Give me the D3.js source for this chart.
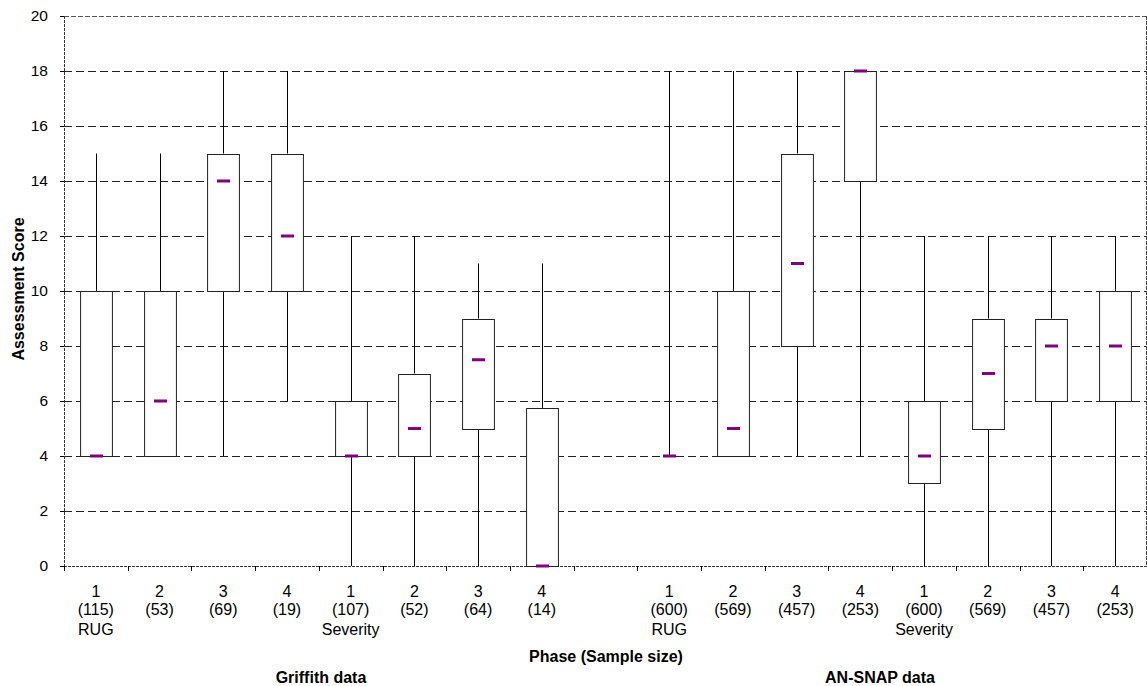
<!DOCTYPE html>
<html>
<head>
<meta charset="utf-8">
<script src="https://cdn.jsdelivr.net/npm/d3@7"></script>
<style>
  body { margin: 0; background: #fff; }
  text { font-family: "Liberation Sans", Arial, sans-serif; fill: #000; }
</style>
</head>
<body>
<div id="chart"></div>
<script>
// slots along the x axis (slot "gap" is the empty space between the two data sets)
const slots = ["g1", "g2", "g3", "g4", "g5", "g6", "g7", "g8", "gap",
               "a1", "a2", "a3", "a4", "a5", "a6", "a7", "a8"];
const phases = ["1", "2", "3", "4", "1", "2", "3", "4", "",
                "1", "2", "3", "4", "1", "2", "3", "4"];
const sampleSizes = ["(115)", "(53)", "(69)", "(19)", "(107)", "(52)", "(64)", "(14)", "",
                     "(600)", "(569)", "(457)", "(253)", "(600)", "(569)", "(457)", "(253)"];
const groupTags = ["RUG", "", "", "", "Severity", "", "", "", "",
                   "RUG", "", "", "", "Severity", "", "", ""];

const mins    = [4, 4, 4, 6, 0, 0, 0, 0, null, 4, 4, 4, 4, 0, 0, 0, 0];
const q1s     = [4, 4, 10, 10, 4, 4, 5, 0, null, 4, 4, 8, 14, 3, 5, 6, 6];
const medians = [4, 6, 14, 12, 4, 5, 7.5, 0, null, 4, 5, 11, 18, 4, 7, 8, 8];
const q3s     = [10, 10, 15, 15, 6, 7, 9, 5.75, null, 4, 10, 15, 18, 6, 9, 9, 10];
const maxs    = [15, 15, 18, 18, 12, 12, 11, 11, null, 18, 18, 18, 18, 12, 12, 12, 12];

const yTicks = [0, 2, 4, 6, 8, 10, 12, 14, 16, 18, 20];

const width = 1147, height = 686;
const margin = { left: 64, right: 0, top: 16, bottom: 120 };

const svg = d3.select("#chart").append("svg")
  .attr("width", width)
  .attr("height", height);

const x = d3.scaleBand()
  .domain(slots)
  .range([margin.left, width - margin.right])
  .padding(0);

const y = d3.scaleLinear()
  .domain([0, 20])
  .range([height - margin.bottom, margin.top]);

const plotLeft = margin.left, plotRight = width - 1;
const plotTop = y(20), plotBottom = y(0);

// horizontal grid lines
svg.append("g")
  .selectAll("line")
  .data(yTicks.filter(d => d > 0))
  .enter()
  .append("line")
  .attr("x1", plotLeft)
  .attr("x2", plotRight)
  .attr("y1", d => Math.round(y(d)) + 0.5)
  .attr("y2", d => Math.round(y(d)) + 0.5)
  .attr("stroke", d => d === 20 ? "#555" : "#222")
  .attr("stroke-dasharray", d => d === 20 ? "5,2" : "8,4");

// right border
svg.append("line")
  .attr("x1", plotRight + 0.5).attr("x2", plotRight + 0.5)
  .attr("y1", plotTop).attr("y2", plotBottom)
  .attr("stroke", "#444")
  .attr("stroke-dasharray", "4,1");

// y axis
const yAxis = svg.append("g")
  .attr("transform", `translate(${plotLeft},0)`)
  .call(d3.axisLeft(y).tickValues(yTicks).tickSize(4).tickPadding(12));
yAxis.select(".domain").attr("stroke", "#333").attr("stroke-dasharray", "3,1");
yAxis.selectAll("text").style("font-size", "15.5px");

// x axis (ticks at slot boundaries)
const boundaries = slots.map(s => x(s)).concat([x.range()[1]]);
svg.append("line")
  .attr("x1", plotLeft).attr("x2", plotRight + 1)
  .attr("y1", Math.round(plotBottom) + 0.5).attr("y2", Math.round(plotBottom) + 0.5)
  .attr("stroke", "#333")
  .attr("stroke-dasharray", "3,1");
svg.append("g")
  .selectAll("line")
  .data(boundaries)
  .enter()
  .append("line")
  .attr("x1", d => Math.round(d) + 0.5)
  .attr("x2", d => Math.round(d) + 0.5)
  .attr("y1", plotBottom)
  .attr("y2", plotBottom + 5)
  .attr("stroke", "#000");

// box plots
const boxData = slots.map((s, i) => ({
  slot: s, min: mins[i], q1: q1s[i], med: medians[i], q3: q3s[i], max: maxs[i]
})).filter(d => d.min !== null);

const boxW = x.bandwidth() * 0.5;
const cx = d => Math.round(x(d.slot) + x.bandwidth() / 2) + 0.5;

const boxes = svg.append("g")
  .selectAll("g")
  .data(boxData)
  .enter()
  .append("g");

// lower whisker
boxes.append("line")
  .attr("x1", cx).attr("x2", cx)
  .attr("y1", d => y(d.min)).attr("y2", d => y(d.q1))
  .attr("stroke", "#000");
// upper whisker
boxes.append("line")
  .attr("x1", cx).attr("x2", cx)
  .attr("y1", d => y(d.q3)).attr("y2", d => y(d.max))
  .attr("stroke", "#000");
// box
boxes.append("rect")
  .attr("x", d => cx(d) - boxW / 2)
  .attr("y", d => Math.round(y(d.q3)) + 0.5)
  .attr("width", boxW)
  .attr("height", d => Math.max(0, Math.round(y(d.q1)) - Math.round(y(d.q3))))
  .attr("fill", "#fff")
  .attr("stroke", "#222");
// median marker
boxes.append("rect")
  .attr("x", d => cx(d) - 6.5)
  .attr("y", d => y(d.med) - 1.5)
  .attr("width", 13)
  .attr("height", 3)
  .attr("fill", "#800080");

// category labels
const labels = svg.append("g")
  .selectAll("text")
  .data(slots.map((s, i) => ({ slot: s, i })))
  .enter()
  .append("text")
  .attr("x", d => x(d.slot) + x.bandwidth() / 2)
  .attr("text-anchor", "middle")
  .style("font-size", "16px");
labels.append("tspan").attr("x", d => x(d.slot) + x.bandwidth() / 2).attr("y", 597).text(d => phases[d.i]);
labels.append("tspan").attr("x", d => x(d.slot) + x.bandwidth() / 2).attr("y", 615).text(d => sampleSizes[d.i]);
labels.append("tspan").attr("x", d => x(d.slot) + x.bandwidth() / 2).attr("y", 635).text(d => groupTags[d.i]);

// axis titles
svg.append("text")
  .attr("x", 606).attr("y", 662)
  .attr("text-anchor", "middle")
  .style("font-size", "16px").style("font-weight", "bold")
  .text("Phase (Sample size)");
svg.append("text")
  .attr("x", 321).attr("y", 683)
  .attr("text-anchor", "middle")
  .style("font-size", "16px").style("font-weight", "bold")
  .text("Griffith data");
svg.append("text")
  .attr("x", 880).attr("y", 683)
  .attr("text-anchor", "middle")
  .style("font-size", "16px").style("font-weight", "bold")
  .text("AN-SNAP data");
svg.append("text")
  .attr("transform", `translate(24, ${(plotTop + plotBottom) / 2 - 2}) rotate(-90)`)
  .attr("text-anchor", "middle")
  .style("font-size", "16px").style("font-weight", "bold")
  .text("Assessment Score");
</script>
</body>
</html>
